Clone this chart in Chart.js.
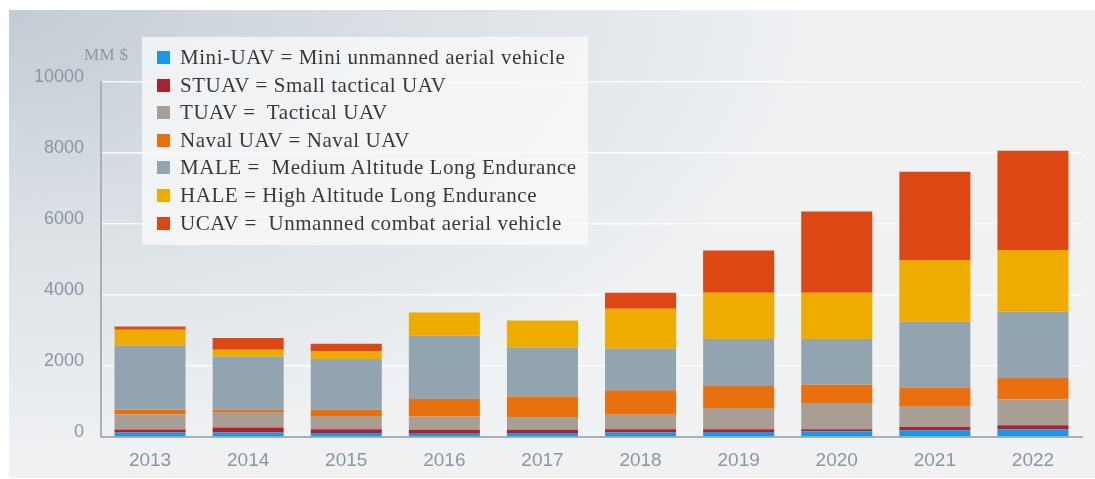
<!DOCTYPE html>
<html>
<head>
<meta charset="utf-8">
<script src="https://cdn.jsdelivr.net/npm/chart.js@4/dist/chart.umd.min.js"></script>
<style>
    html, body { margin: 0; padding: 0; background: #ffffff; }
    #frame {
        position: absolute; left: 9px; top: 10px; width: 1086px; height: 468px;
        background-color: #eff1f3;
        background-image: radial-gradient(ellipse 75% 95% at 0% 0%, #c3ccd4 0%, #d9dfe4 45%, #eff1f3 100%);
    }
    #wrap { position: absolute; left: 0; top: 0; width: 1095px; height: 479px; }
    #unit {
        position: absolute; left: 84px; top: 45px;
        font: 17px "Liberation Serif", serif; color: #8d979f; letter-spacing: 0.3px;
    }
    #legend {
        position: absolute; left: 142px; top: 37px; width: 446px; height: 208px;
        background: rgba(248, 249, 250, 0.8);
        box-sizing: border-box; padding-top: 7px;
        font: 21px "Liberation Serif", serif; color: #383838; letter-spacing: 0.55px;
    }
    .item { position: relative; height: 27.6px; line-height: 27.6px; white-space: pre; }
    .sw { position: absolute; left: 15px; top: 7px; width: 13px; height: 13px; }
    .lbl { position: absolute; left: 38px; top: 0; }
</style>
</head>
<body>
<div id="frame"></div>
<div id="wrap"><canvas id="uavChart"></canvas></div>
<div id="unit">MM $</div>
<div id="legend"></div>
<script>
// Dados do gráfico (milhões de dólares)
const years = ['2013', '2014', '2015', '2016', '2017', '2018', '2019', '2020', '2021', '2022'];
const yTicks = [0, 2000, 4000, 6000, 8000, 10000];

const miniUav  = [130, 130, 110, 95, 110, 130, 140, 160, 190, 210];
const stuav    = [80, 140, 110, 110, 95, 85, 75, 55, 95, 120];
const tuav     = [430, 435, 375, 375, 355, 415, 600, 740, 585, 725];
const navalUav = [130, 65, 170, 490, 580, 685, 620, 520, 525, 610];
const male     = [1810, 1500, 1430, 1785, 1380, 1175, 1325, 1285, 1850, 1860];
const hale     = [440, 190, 215, 655, 760, 1125, 1305, 1305, 1740, 1740];
const ucav     = [95, 330, 215, 0, 0, 450, 1190, 2290, 2485, 2795];

const seriesLabels = [
    'Mini-UAV = Mini unmanned aerial vehicle',
    'STUAV = Small tactical UAV',
    'TUAV =  Tactical UAV',
    'Naval UAV = Naval UAV',
    'MALE =  Medium Altitude Long Endurance',
    'HALE = High Altitude Long Endurance',
    'UCAV =  Unmanned combat aerial vehicle'
];
const seriesColors = ['#1e96e6', '#a8222f', '#a89e93', '#e8700f', '#93a4b1', '#eeab00', '#dc4713'];
const seriesData = [miniUav, stuav, tuav, navalUav, male, hale, ucav];

const axisColor = '#a8b0b8';
const tickColor = '#8c96a0';

const datasets = seriesData.map((values, i) => ({
    label: seriesLabels[i],
    data: values,
    backgroundColor: seriesColors[i],
    borderWidth: 0,
    barPercentage: 0.724,
    categoryPercentage: 1
}));

const ctx = document.getElementById('uavChart').getContext('2d');
const chart = new Chart(ctx, {
    type: 'bar',
    data: { labels: years, datasets: datasets },
    options: {
        responsive: true,
        maintainAspectRatio: false,
        animation: false,
        layout: { padding: { top: 82, right: 13, bottom: 0, left: 0 } },
        plugins: { legend: { display: false }, tooltip: { enabled: false } },
        scales: {
            x: {
                stacked: true,
                grid: { display: false, drawTicks: false },
                border: { display: true, color: axisColor, width: 2 },
                ticks: { color: tickColor, padding: 12, font: { family: 'Liberation Sans', size: 19 } },
                afterFit: scale => { scale.height = 42; }
            },
            y: {
                stacked: true,
                min: 0,
                max: 10000,
                afterBuildTicks: scale => { scale.ticks = yTicks.map(v => ({ value: v })); },
                grid: { color: 'rgba(255,255,255,0.85)', lineWidth: 1.5, drawTicks: false },
                border: { display: true, color: axisColor, width: 2 },
                ticks: {
                    color: tickColor, padding: 17, labelOffset: -5,
                    font: { family: 'Liberation Sans', size: 18 },
                    callback: v => String(v)
                },
                afterFit: scale => { scale.width = 101; }
            }
        }
    }
});

// Legenda em HTML, montada a partir dos datasets
const legendBox = document.getElementById('legend');
chart.data.datasets.forEach(ds => {
    const item = document.createElement('div');
    item.className = 'item';
    const sw = document.createElement('span');
    sw.className = 'sw';
    sw.style.background = ds.backgroundColor;
    const lbl = document.createElement('span');
    lbl.className = 'lbl';
    lbl.textContent = ds.label;
    item.appendChild(sw);
    item.appendChild(lbl);
    legendBox.appendChild(item);
});
</script>
</body>
</html>
